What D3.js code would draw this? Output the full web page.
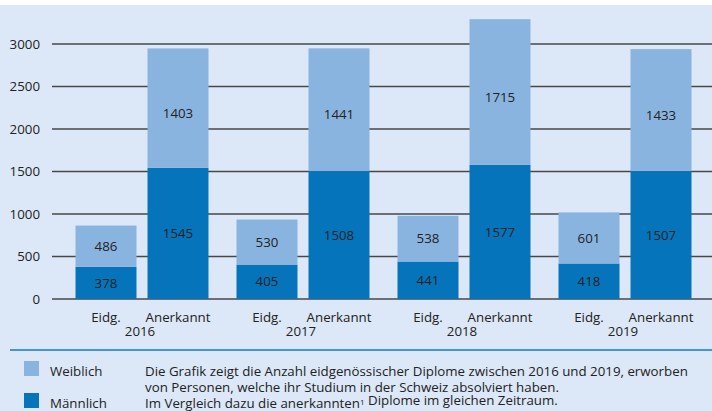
<!DOCTYPE html>
<html>
<head>
<meta charset="utf-8">
<script src="https://cdn.jsdelivr.net/npm/d3@7"></script>
<style>
  body { margin: 0; background: #fff; }
  svg { display: block; font-family: "Open Sans", sans-serif; }
  .tick-label, .value, .cat, .year, .legend, .note { fill: #222; }
</style>
</head>
<body>
<svg id="chart"></svg>
<script>
const years = ["2016", "2017", "2018", "2019"];
const types = ["Eidg.", "Anerkannt"];
// [Eidg., Anerkannt] per year
const maennlich = [[378, 1545], [405, 1508], [441, 1577], [418, 1507]];
const weiblich = [[486, 1403], [530, 1441], [538, 1715], [601, 1433]];
const yTicks = [0, 500, 1000, 1500, 2000, 2500, 3000];
const legendLabels = ["Weiblich", "Männlich"];
const noteLines = [
  "Die Grafik zeigt die Anzahl eidgenössischer Diplome zwischen 2016 und 2019, erworben",
  "von Personen, welche ihr Studium in der Schweiz absolviert haben.",
  "Im Vergleich dazu die anerkannten¹ Diplome im gleichen Zeitraum."
];

const W = 712, H = 411;
const BG = "#dce8f7", DARK = "#0574bb", LIGHT = "#8ab4e0";
const FS = 13.3;

const svg = d3.select("#chart").attr("width", W).attr("height", H);

svg.append("rect").attr("x", 0).attr("y", 5).attr("width", W).attr("height", H - 5).attr("fill", BG);

const y = d3.scaleLinear().domain([0, 3000]).range([299, 44]);
const x0 = d3.scaleBand().domain(years).range([61.5, 705.5]).paddingInner(0.174).paddingOuter(0.087);
const x1 = d3.scaleBand().domain(types).range([0, x0.bandwidth()]).paddingInner(0.153);

// grid
svg.append("g").selectAll("line")
  .data(yTicks)
  .join("line")
  .attr("x1", 52).attr("x2", W)
  .attr("y1", d => y(d)).attr("y2", d => y(d))
  .attr("stroke", "#474747").attr("stroke-width", 1.5);

svg.append("g").selectAll("text")
  .data(yTicks)
  .join("text")
  .attr("class", "tick-label")
  .attr("x", 40).attr("y", d => y(d))
  .attr("dy", "0.35em")
  .attr("text-anchor", "end")
  .attr("font-size", FS)
  .text(d => d);

// bars
const rows = [];
years.forEach((yr, i) => {
  types.forEach((t, j) => {
    rows.push({year: yr, type: t, m: maennlich[i][j], w: weiblich[i][j]});
  });
});

const bar = svg.append("g").selectAll("g")
  .data(rows)
  .join("g")
  .attr("transform", d => `translate(${x0(d.year) + x1(d.type)},0)`);

bar.append("rect")
  .attr("y", d => y(d.m))
  .attr("width", x1.bandwidth())
  .attr("height", d => y(0) - y(d.m))
  .attr("fill", DARK);

bar.append("rect")
  .attr("y", d => y(d.m + d.w))
  .attr("width", x1.bandwidth())
  .attr("height", d => y(d.m) - y(d.m + d.w))
  .attr("fill", LIGHT);

bar.append("text")
  .attr("class", "value")
  .attr("x", x1.bandwidth() / 2)
  .attr("y", d => (y(0) + y(d.m)) / 2)
  .attr("dy", "0.35em")
  .attr("text-anchor", "middle")
  .attr("font-size", FS)
  .text(d => d.m);

bar.append("text")
  .attr("class", "value")
  .attr("x", x1.bandwidth() / 2)
  .attr("y", d => (y(d.m) + y(d.m + d.w)) / 2 + (d.type === "Anerkannt" ? 5 : 0))
  .attr("dy", "0.35em")
  .attr("text-anchor", "middle")
  .attr("font-size", FS)
  .text(d => d.w);

// x labels
bar.append("text")
  .attr("class", "cat")
  .attr("x", x1.bandwidth() / 2)
  .attr("y", 317)
  .attr("dy", "0.35em")
  .attr("text-anchor", "middle")
  .attr("font-size", FS)
  .text(d => d.type);

svg.append("g").selectAll("text")
  .data(years)
  .join("text")
  .attr("class", "year")
  .attr("x", d => x0(d) + x0.bandwidth() / 2 - 2)
  .attr("y", 331)
  .attr("dy", "0.35em")
  .attr("text-anchor", "middle")
  .attr("font-size", FS)
  .text(d => d);

// separator
svg.append("line")
  .attr("x1", 10).attr("x2", W)
  .attr("y1", 350).attr("y2", 350)
  .attr("stroke", "#1777c4").attr("stroke-width", 1.5);

// legend
const leg = svg.append("g").selectAll("g")
  .data(legendLabels)
  .join("g")
  .attr("transform", (d, i) => `translate(24,${361 + i * 32})`);

leg.append("rect")
  .attr("width", 15).attr("height", 15)
  .attr("fill", (d, i) => i === 0 ? LIGHT : DARK);

leg.append("text")
  .attr("class", "legend")
  .attr("x", 26).attr("y", 10.5)
  .attr("dy", "0.35em")
  .attr("font-size", FS)
  .text(d => d);

// note text, the footnote mark drawn small and raised
svg.append("g").selectAll("text")
  .data(noteLines)
  .join("text")
  .attr("class", "note")
  .attr("x", 145)
  .attr("y", (d, i) => 371.5 + i * 16)
  .attr("dy", "0.35em")
  .attr("font-size", FS)
  .each(function(d) {
    const t = d3.select(this);
    d.split(/(¹)/).forEach(part => {
      if (part === "¹") {
        t.append("tspan").attr("font-size", 8).attr("dy", "-0.45em").text("1");
        t.append("tspan").attr("dy", "0.3em").text("");
      } else if (part) {
        t.append("tspan").text(part);
      }
    });
  });
</script>
</body>
</html>
